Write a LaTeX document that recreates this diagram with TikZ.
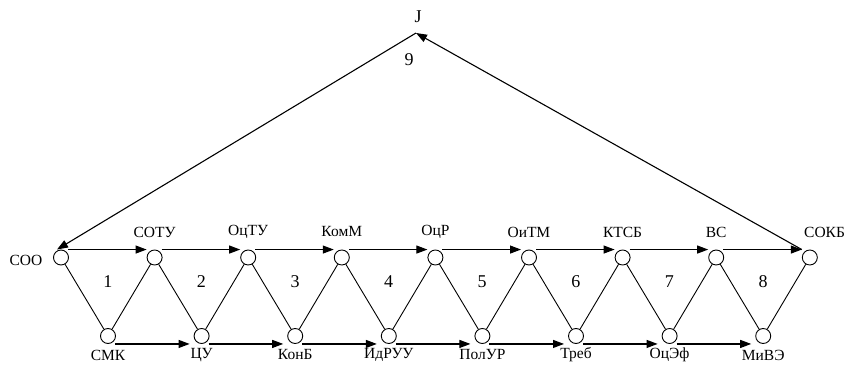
\documentclass[tikz,border=0pt]{standalone}
\usepackage{fontspec}
\setmainfont{Liberation Serif}
\newfontfamily\tnr{Liberation Serif}
\usetikzlibrary{arrows.meta,calc}
\begin{document}
\begin{tikzpicture}[x=1pt,y=1pt,
  vtx/.style={circle,draw,line width=0.9pt,minimum size=15pt,inner sep=0pt},
  edge/.style={line width=0.9pt},
  arr/.style={line width=1.1pt,-{Triangle[length=11pt,width=8pt]}},
  lbl/.style={font=\tnr\fontsize{15.5}{17}\selectfont,inner sep=0pt},
  num/.style={font=\tnr\fontsize{18}{20}\selectfont,inner sep=0pt}]
\useasboundingbox (0,0) rectangle (848,364);

% upper row of vertices
\foreach \i in {0,...,8}
  \node[vtx] (t\i) at (61+93.6*\i,106.5) {};
% lower row of vertices
\foreach \i in {0,...,7}
  \node[vtx] (b\i) at (108+93.6*\i,28) {};

% vertex names
\node[lbl] (lt0) at (26,104) {СОО};
\foreach \i/\txt in {1/СОТУ,2/ОцТУ,3/КомМ,4/ОцР,5/ОиТМ,6/КТСБ,7/ВС}
  \node[lbl] (lt\i) at ($(t\i)+(0,25.5)$) {\txt};
\node[lbl,anchor=west] (lt8) at (804,132) {СОКБ};
\foreach \i/\txt in {0/СМК,1/ЦУ,2/КонБ,3/ИдРУУ,4/ПолУР,5/Треб,6/ОцЭф,7/МиВЭ}
  \node[lbl] (lb\i) at ($(b\i)+(0,-19)$) {\txt};

% triangle numbers
\foreach \i in {0,...,7}{
  \pgfmathtruncatemacro{\n}{\i+1}
  \node[num] (n\n) at ($(t\i)!0.5!(t\n)+(0,-24)$) {\n};
}

% zig-zag edges
\foreach \i in {0,...,7}{
  \pgfmathtruncatemacro{\j}{\i+1}
  \draw[edge] (t\i) -- (b\i);
  \draw[edge] (b\i) -- (t\j);
}

% upper arrows along the top of the vertices
\foreach \i in {0,...,7}{
  \pgfmathtruncatemacro{\j}{\i+1}
  \draw[arr] ($(t\i.north)+(7,0)$) -- ($(t\j.north)+(-8,0)$);
}
% lower arrows along the bottom of the vertices
\foreach \i in {0,...,6}{
  \pgfmathtruncatemacro{\j}{\i+1}
  \draw[arr] ($(b\i.south)+(7,0)$) -- ($(b\j.south)+(-12,0)$);
}

% apex J with the closing arcs
\coordinate (J) at (416,331);
\node[num] (lJ) at (418,347) {J};
\node[num] (n9) at (409,304) {9};
\draw[arr] (J) -- ($(t0.center)+(-4,8)$);
\draw[arr] ($(t8.north)+(-8,0)$) -- (J);
\end{tikzpicture}
\end{document}
